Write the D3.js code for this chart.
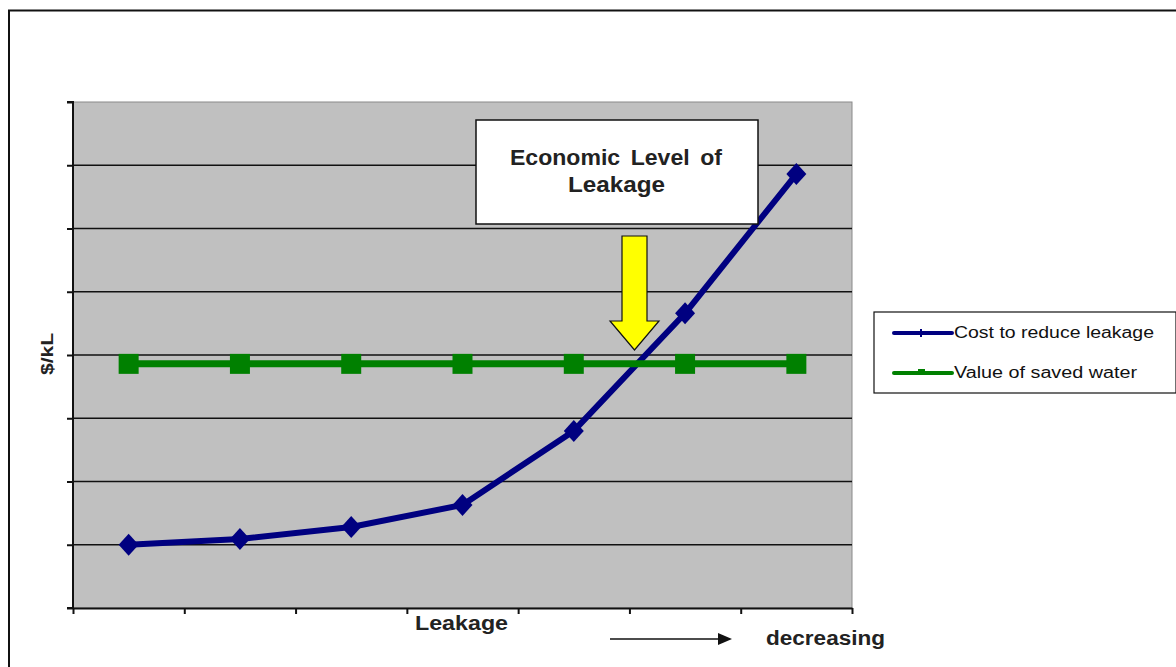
<!DOCTYPE html>
<html>
<head>
<meta charset="utf-8">
<script src="https://cdn.jsdelivr.net/npm/d3@7"></script>
<style>
  body { margin: 0; background: #fff; }
  svg { display: block; font-family: "Liberation Sans", Arial, sans-serif; }
</style>
</head>
<body>
<svg id="chart"></svg>
<script>
// chart data
const categories = ["1", "2", "3", "4", "5", "6", "7"];
const costValues = [1.0, 1.09, 1.28, 1.63, 2.80, 4.66, 6.86];
const savedValues = [3.86, 3.86, 3.86, 3.86, 3.86, 3.86, 3.86];
const yTicks = [0, 1, 2, 3, 4, 5, 6, 7, 8];
const seriesNames = ["Cost to reduce leakage", "Value of saved water"];

const width = 1176, height = 667;
const plot = { left: 73, right: 852, top: 102, bottom: 608 };

const svg = d3.select("#chart").attr("width", width).attr("height", height);

// outer frame (cut at right / bottom edges)
svg.append("rect")
   .attr("x", 9).attr("y", 10.5)
   .attr("width", 1180).attr("height", 680)
   .attr("fill", "none").attr("stroke", "#111").attr("stroke-width", 2);

const x = d3.scaleBand().domain(categories).range([plot.left, plot.right]);
const y = d3.scaleLinear().domain([0, 8]).range([plot.bottom, plot.top]);
const cx = d => x(d) + x.bandwidth() / 2;

// plot background
svg.append("rect")
   .attr("x", plot.left).attr("y", plot.top)
   .attr("width", plot.right - plot.left).attr("height", plot.bottom - plot.top)
   .attr("fill", "#c0c0c0").attr("stroke", "#8a8a8a").attr("stroke-width", 1);

// gridlines
svg.append("g")
   .selectAll("line")
   .data(yTicks.filter(t => t > 0 && t < 8))
   .enter().append("line")
   .attr("x1", plot.left).attr("x2", plot.right)
   .attr("y1", d => y(d)).attr("y2", d => y(d))
   .attr("stroke", "#111").attr("stroke-width", 1.5);

// y axis
const yAxis = svg.append("g")
   .attr("transform", `translate(${plot.left},0)`)
   .call(d3.axisLeft(y).tickValues(yTicks).tickSize(6).tickFormat(""));
yAxis.selectAll("path, line").attr("stroke", "#111").attr("stroke-width", 2);
yAxis.select(".domain").attr("d", `M-6,${plot.top}H0V${plot.bottom}H-6`);

// x axis (ticks on band edges)
const xEdges = categories.map(c => x(c)).concat([plot.right]);
const xAxis = svg.append("g")
   .attr("transform", `translate(0,${plot.bottom})`)
   .call(d3.axisBottom(d3.scaleLinear().domain([plot.left, plot.right]).range([plot.left, plot.right]))
          .tickValues(xEdges).tickSize(6).tickSizeOuter(0).tickFormat(""));
xAxis.selectAll("path, line").attr("stroke", "#111").attr("stroke-width", 2);

// series lines
const line = d3.line().x((d, i) => cx(categories[i])).y(d => y(d));

svg.append("path")
   .datum(costValues)
   .attr("d", line)
   .attr("fill", "none").attr("stroke", "#000080").attr("stroke-width", 6)
   .attr("stroke-linejoin", "round");

svg.append("g").selectAll("path")
   .data(costValues)
   .enter().append("path")
   .attr("transform", (d, i) => `translate(${cx(categories[i])},${y(d)})`)
   .attr("d", "M0,-11L10,0L0,11L-10,0Z")
   .attr("fill", "#000080");

svg.append("path")
   .datum(savedValues)
   .attr("d", line)
   .attr("fill", "none").attr("stroke", "#008000").attr("stroke-width", 7);

svg.append("g").selectAll("rect")
   .data(savedValues)
   .enter().append("rect")
   .attr("x", (d, i) => cx(categories[i]) - 10)
   .attr("y", d => y(d) - 10)
   .attr("width", 20).attr("height", 20)
   .attr("fill", "#008000");

// helper for stretched text (the source renders text wide)
const stretched = (sel, len) => sel.attr("textLength", len).attr("lengthAdjust", "spacingAndGlyphs");

// annotation box
svg.append("rect")
   .attr("x", 476).attr("y", 120).attr("width", 282).attr("height", 104)
   .attr("fill", "#fff").attr("stroke", "#111").attr("stroke-width", 1.5);
stretched(svg.append("text")
   .attr("x", 510).attr("y", 165)
   .attr("font-size", 22).attr("font-weight", "bold").attr("fill", "#222")
   .attr("word-spacing", 4).text("Economic Level of"), 212);
stretched(svg.append("text")
   .attr("x", 568).attr("y", 192)
   .attr("font-size", 22).attr("font-weight", "bold").attr("fill", "#222")
   .text("Leakage"), 97);

// yellow arrow
svg.append("path")
   .attr("d", "M622,236H647V321H659L634.5,350L610,321H622Z")
   .attr("fill", "#ffff00").attr("stroke", "#111").attr("stroke-width", 1.2);

// y label
stretched(svg.append("text")
   .attr("transform", "translate(53,375) rotate(-90)")
   .attr("font-size", 17).attr("font-weight", "bold")
   .attr("fill", "#222").text("$/kL"), 42);

// x label
stretched(svg.append("text")
   .attr("x", 415).attr("y", 630)
   .attr("font-size", 21).attr("font-weight", "bold")
   .attr("fill", "#222").text("Leakage"), 93);

svg.append("line")
   .attr("x1", 610).attr("x2", 720).attr("y1", 639).attr("y2", 639)
   .attr("stroke", "#111").attr("stroke-width", 1.5);
svg.append("path")
   .attr("d", "M718,633L732,639L718,645Z").attr("fill", "#111");

stretched(svg.append("text")
   .attr("x", 766).attr("y", 645)
   .attr("font-size", 20).attr("font-weight", "bold")
   .attr("fill", "#222").text("decreasing"), 119);

// legend
const legend = svg.append("g");
legend.append("rect")
   .attr("x", 874).attr("y", 312).attr("width", 302).attr("height", 81)
   .attr("fill", "#fff").attr("stroke", "#111").attr("stroke-width", 1.2);

const legendColors = ["#000080", "#008000"];
const legendLengths = [200, 183];
seriesNames.forEach((name, i) => {
  const ly = 333 + i * 40;
  legend.append("line")
     .attr("x1", 894).attr("x2", 952).attr("y1", ly).attr("y2", ly)
     .attr("stroke", legendColors[i]).attr("stroke-width", 4).attr("stroke-linecap", "round");
  if (i === 0) {
    legend.append("line")
       .attr("x1", 921).attr("x2", 921).attr("y1", ly - 4).attr("y2", ly + 4)
       .attr("stroke", legendColors[i]).attr("stroke-width", 2);
  } else {
    legend.append("rect")
       .attr("x", 918).attr("y", ly - 4).attr("width", 7).attr("height", 6)
       .attr("fill", legendColors[i]);
  }
  stretched(legend.append("text")
     .attr("x", 954).attr("y", ly + 5)
     .attr("font-size", 16)
     .attr("fill", "#111").text(name), legendLengths[i]);
});
</script>
</body>
</html>
